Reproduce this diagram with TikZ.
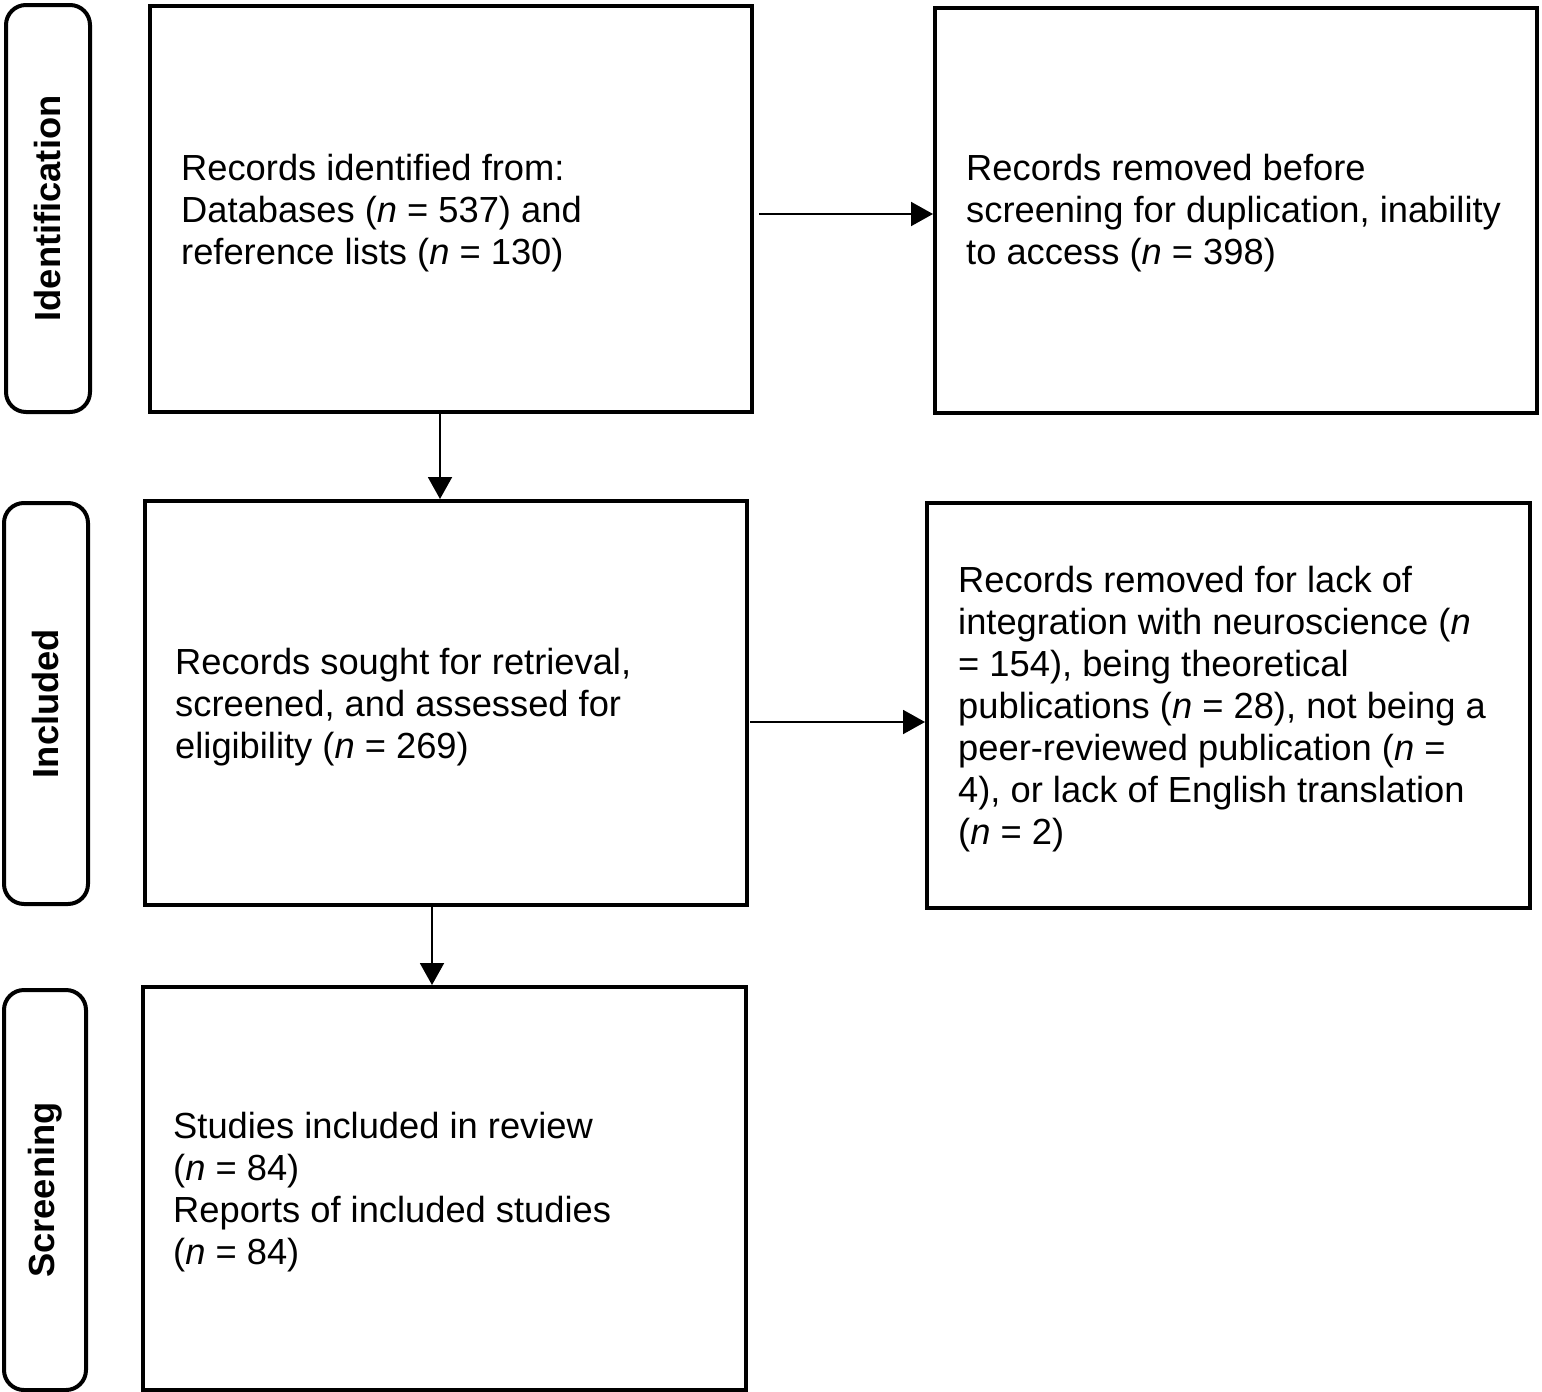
\documentclass[tikz,border=0pt]{standalone}
\usepackage{fontspec}
\setmainfont{Liberation Sans}
\usetikzlibrary{arrows.meta,positioning}
\begin{document}
\begin{tikzpicture}[x=1pt,y=-1pt,
  box/.style={draw,line width=4pt,minimum width=#1,inner sep=0pt},
  side/.style={draw,line width=4pt,rounded corners=20pt,inner sep=0pt,minimum width=84pt},
  sidetxt/.style={rotate=90,font=\fontsize{36.3}{42}\selectfont\bfseries},
  txt/.style={anchor=west,align=left,inner sep=0pt,font=\fontsize{36.3}{42}\selectfont},
  arr/.style={line width=2pt,-{Triangle[length=22pt,width=24pt]},shorten >=0pt}
]
\useasboundingbox (0,0) rectangle (1542,1392);
% side labels
\node[side,minimum height=407pt] (s1) at (48,208.5) {};
\node[side,minimum height=401pt] (s2) at (46,703.5) {};
\node[side,minimum height=400pt,minimum width=82pt] (s3) at (45,1190) {};
\node[sidetxt] (l1) at (s1.center) {Identification};
\node[sidetxt] (l2) at (s2.center) {Included};
\node[sidetxt] (l3) at (s3.center) {Screening};
% boxes
\node[box=602pt,minimum height=406pt] (b1) at (451,209) {};
\node[box=602pt,minimum height=405pt] (b2) at (1236,210.5) {};
\node[box=602pt,minimum height=404pt] (b3) at (446,703) {};
\node[box=603pt,minimum height=405pt] (b4) at (1228.5,705.5) {};
\node[box=603pt,minimum height=403pt] (b5) at (444.5,1188.5) {};
% texts
\node[txt] (t1) at ([shift={(33,4)}]b1.west) {Records identified from:\\Databases (\textit{n} = 537) and\\reference lists (\textit{n} = 130)};
\node[txt] (t2) at ([shift={(33,3)}]b2.west) {Records removed before\\screening for duplication, inability\\to access (\textit{n} = 398)};
\node[txt] (t3) at ([shift={(32,4)}]b3.west) {Records sought for retrieval,\\screened, and assessed for\\eligibility (\textit{n} = 269)};
\node[txt] (t4) at ([shift={(33,4)}]b4.west) {Records removed for lack of\\integration with neuroscience (\textit{n}\\= 154), being theoretical\\publications (\textit{n} = 28), not being a\\peer-reviewed publication (\textit{n} =\\4), or lack of English translation\\(\textit{n} = 2)};
\node[txt] (t5) at ([shift={(32,4)}]b5.west) {Studies included in review\\(\textit{n} = 84)\\Reports of included studies\\(\textit{n} = 84)};
% arrows
\draw[arr] ([shift={(5,5)}]b1.east) -- ([shift={(0,3.5)}]b2.west);
\draw[arr] ([xshift=-11pt]b1.south) -- ([xshift=-6pt]b3.north);
\draw[arr] ([shift={(1,19)}]b3.east) -- ([shift={(0,16.5)}]b4.west);
\draw[arr] ([xshift=-14pt]b3.south) -- ([xshift=-12.5pt]b5.north);
\end{tikzpicture}
\end{document}
